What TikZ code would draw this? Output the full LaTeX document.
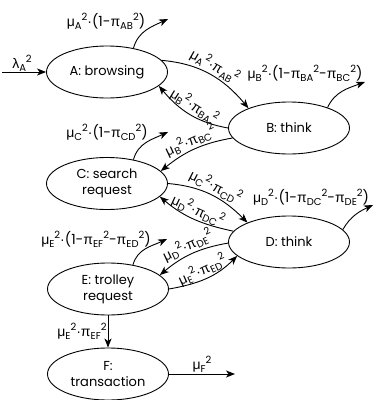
\documentclass[tikz,border=0pt]{standalone}
\usepackage{fontspec}
\setmainfont{Poppins}
\newfontfamily\grk{Liberation Sans}
\usetikzlibrary{arrows.meta,shapes.geometric}
\newcommand{\sbS}[1]{\raisebox{-3pt}{\fontsize{10}{10}\selectfont #1}}
\newcommand{\spS}{\raisebox{6pt}{\fontsize{10}{10}\selectfont 2}}
\newcommand{\muS}[1]{{\grk μ}\sbS{#1}\spS}
\newcommand{\piS}[1]{{\grk π}\sbS{#1}\spS}
\newcommand{\lamS}[1]{{\grk λ}\sbS{#1}\spS}
\newcommand{\cdotS}{{\grk ·}}
\begin{document}
\begin{tikzpicture}[x=1pt,y=1pt,
  state/.style={draw, ellipse, minimum width=121pt, minimum height=52pt, inner sep=0pt, align=center, font=\fontsize{13}{16}\selectfont, line width=0.9pt},
  flow/.style={-{Stealth[length=9pt,width=7pt,inset=2.5pt]}, line width=0.9pt},
  lbl/.style={font=\fontsize{14}{15}\selectfont, inner sep=1pt}]
\useasboundingbox (0,0) rectangle (377,-400);
\node[state] (A) at (107,-72) {A: browsing};
\node[state] (B) at (289,-128) {B: think};
\node[state] (C) at (107,-183.5) {C: search\\request};
\node[state] (D) at (289,-242) {D: think};
\node[state] (E) at (108,-289) {E: trolley\\request};
\node[state] (F) at (108,-374) {F:\\transaction};
\coordinate (Ain) at (2,-72);
\coordinate (Aout) at (168,-19);
\coordinate (Bout) at (365,-82);
\coordinate (Cout) at (168,-132);
\coordinate (Dout) at (373,-205);
\coordinate (Eout) at (167,-239);
\coordinate (Fout) at (235,-374);
\node[lbl] (lAin) at (22,-63) {\lamS{A}};
\node[lbl] (lAout) at (106,-21) {\muS{A}\cdotS(1-\piS{AB})};
\node[lbl] (lBout) at (305,-73) {\muS{B}\cdotS(1-\piS{BA}-\piS{BC})};
\node[lbl] (lCout) at (107,-132) {\muS{C}\cdotS(1-\piS{CD})};
\node[lbl] (lDout) at (311,-197) {\muS{D}\cdotS(1-\piS{DC}-\piS{DE})};
\node[lbl] (lEout) at (96,-239) {\muS{E}\cdotS(1-\piS{EF}-\piS{ED})};
\draw[flow] (Ain) -- (A.west);
\draw[flow] (A.42) to[out=75,in=205] (Aout);
\draw[flow] (A.12) to[out=-5,in=130] node[lbl,sloped,above] (lAB) {\muS{A}\cdotS\piS{AB}} (B.154);
\draw[flow] (B.180) to[out=170,in=-50] node[lbl,sloped,above] (lBA) {\muS{B}\cdotS\piS{BA}} (A.-15);
\draw[flow] (B.28) to[out=65,in=200] (Bout);
\draw[flow] (B.190) to[out=190,in=39] node[lbl,sloped,above] (lBC) {\muS{B}\cdotS\piS{BC}} (C.13);
\draw[flow] (C.42) to[out=75,in=205] (Cout);
\draw[flow] (C.0) to[out=-5,in=135] node[lbl,sloped,above] (lCD) {\muS{C}\cdotS\piS{CD}} (D.155);
\draw[flow] (D.169) to[out=168,in=-40] node[lbl,sloped,above] (lDC) {\muS{D}\cdotS\piS{DC}} (C.-14);
\draw[flow] (D.13) to[out=60,in=205] (Dout);
\draw[flow] (D.181) to[out=190,in=40] node[lbl,sloped,above] (lDE) {\muS{D}\cdotS\piS{DE}} (E.15);
\draw[flow] (E.0) to[out=10,in=225] node[lbl,sloped,above] (lED) {\muS{E}\cdotS\piS{ED}} (D.195);
\draw[flow] (E.44) to[out=75,in=205] (Eout);
\draw[flow] (E.south) -- node[lbl,left] (lEF) {\muS{E}\cdotS\piS{EF}} (F.north);
\draw[flow] (F.east) -- node[lbl,above] (lF) {\muS{F}} (Fout);
\end{tikzpicture}
\end{document}
